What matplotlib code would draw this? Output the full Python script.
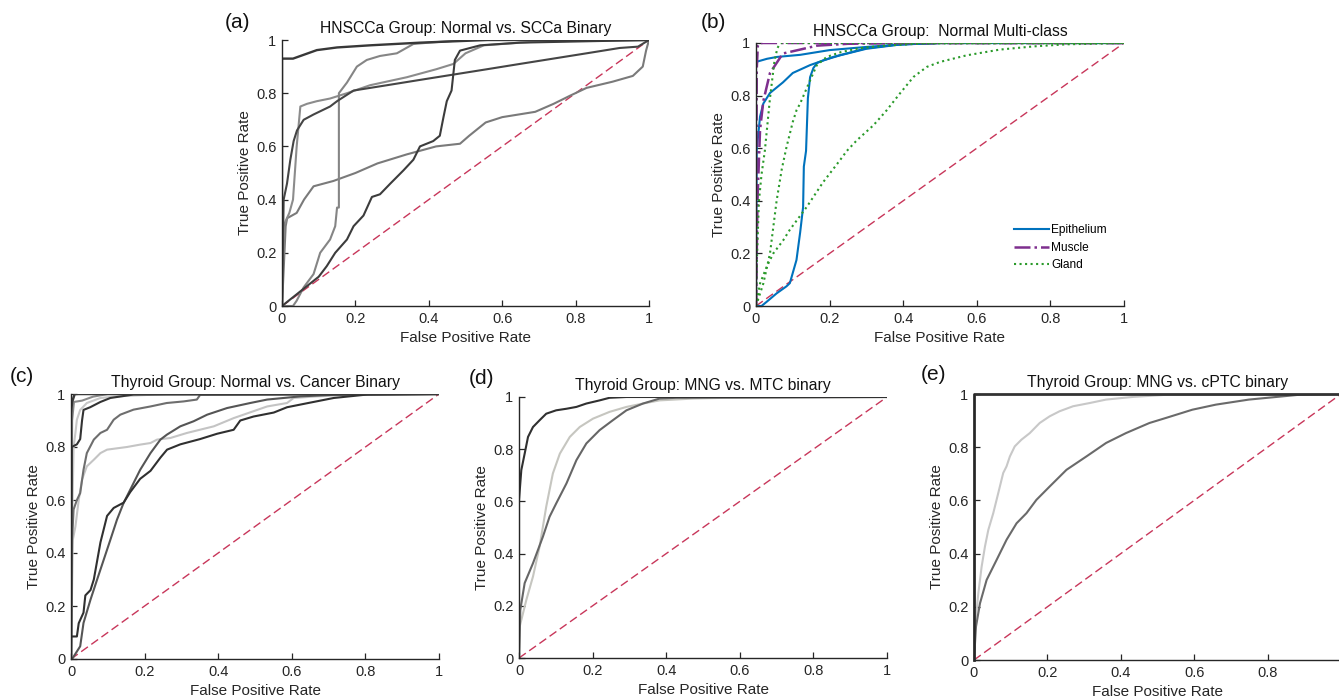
import matplotlib
matplotlib.use("Agg")
import matplotlib.pyplot as plt

plt.rcParams['font.family'] = ['Liberation Sans', 'DejaVu Sans']

# ---------------- data ----------------
tick_vals = [0, 0.2, 0.4, 0.6, 0.8, 1]
tick_labels = ['0', '0.2', '0.4', '0.6', '0.8', '1']

titles = ['HNSCCa Group: Normal vs. SCCa Binary',
          'HNSCCa Group:  Normal Multi-class',
          'Thyroid Group: Normal vs. Cancer Binary',
          'Thyroid Group: MNG vs. MTC binary',
          'Thyroid Group: MNG vs. cPTC binary']
panel_labels = ['(a)', '(b)', '(c)', '(d)', '(e)']
xlabel = 'False Positive Rate'
ylabel = 'True Positive Rate'
legend_labels = ['Epithelium', 'Muscle', 'Gland']

# Panel (a)
a1_x = [0, 0, 0.03, 0.095, 0.15, 0.24, 0.376, 0.56, 1.0]
a1_y = [0, 0.93, 0.93, 0.962, 0.972, 0.98, 0.99, 1.0, 1.0]
a2_x = [0, 0.005, 0.01, 0.014, 0.04, 0.06, 0.086, 0.14, 0.2, 0.26, 0.34, 0.42, 0.485,
        0.51, 0.555, 0.6, 0.69, 0.74, 0.784, 0.83, 0.9, 0.956, 0.983, 0.992, 1.0]
a2_y = [0, 0.15, 0.3, 0.33, 0.35, 0.4, 0.45, 0.47, 0.50, 0.536, 0.57, 0.6, 0.61,
        0.64, 0.69, 0.71, 0.73, 0.76, 0.79, 0.82, 0.843, 0.865, 0.9, 0.96, 1.0]
a3_x = [0, 0.0045, 0.0136, 0.0227, 0.0317, 0.0408, 0.059, 0.086, 0.131, 0.15, 0.195,
        0.286, 0.376, 0.467, 0.558, 0.648, 0.739, 0.83, 0.92, 0.97, 1.0]
a3_y = [0, 0.4, 0.46, 0.55, 0.62, 0.66, 0.7, 0.72, 0.75, 0.77, 0.81,
        0.83, 0.85, 0.87, 0.89, 0.91, 0.93, 0.95, 0.97, 0.975, 1.0]
a4_x = [0, 0.005, 0.01, 0.02, 0.03, 0.04, 0.05, 0.068, 0.095, 0.131, 0.177, 0.24,
        0.34, 0.42, 0.467, 0.5, 0.55, 0.7, 1.0]
a4_y = [0, 0.3, 0.32, 0.35, 0.4, 0.6, 0.75, 0.76, 0.77, 0.78, 0.80, 0.83,
        0.86, 0.89, 0.91, 0.95, 0.98, 0.995, 1.0]
a5_x = [0, 0.03, 0.04, 0.059, 0.086, 0.104, 0.131, 0.145, 0.15, 0.155, 0.155, 0.177,
        0.186, 0.204, 0.231, 0.267, 0.313, 0.358, 0.4, 0.5, 1.0]
a5_y = [0, 0, 0.02, 0.07, 0.12, 0.2, 0.25, 0.3, 0.37, 0.37, 0.8, 0.84,
        0.86, 0.9, 0.925, 0.94, 0.95, 0.985, 0.99, 1.0, 1.0]
a6_x = [0, 0.1, 0.122, 0.145, 0.177, 0.195, 0.222, 0.245, 0.267, 0.295, 0.331, 0.358,
        0.376, 0.412, 0.43, 0.44, 0.449, 0.462, 0.471, 0.485, 0.54, 0.648, 1.0]
a6_y = [0, 0.11, 0.15, 0.2, 0.25, 0.3, 0.34, 0.41, 0.42, 0.46, 0.51, 0.55,
        0.6, 0.62, 0.64, 0.71, 0.77, 0.81, 0.925, 0.96, 0.98, 0.99, 1.0]

# Panel (b)
epi1_x = [0, 0, 0.03, 0.057, 0.12, 0.2, 0.3, 0.4, 0.5, 1]
epi1_y = [0, 0.928, 0.94, 0.947, 0.955, 0.973, 0.985, 0.995, 1, 1]
epi2_x = [0, 0.002, 0.006, 0.011, 0.02, 0.038, 0.073, 0.1, 0.147, 0.21, 0.3, 0.39, 0.5, 1]
epi2_y = [0, 0.6, 0.65, 0.72, 0.77, 0.81, 0.85, 0.886, 0.916, 0.947, 0.98, 0.995, 1, 1]
epi3_x = [0, 0.015, 0.029, 0.056, 0.083, 0.092, 0.11, 0.12, 0.128, 0.13, 0.136, 0.141,
          0.147, 0.156, 0.166, 0.183, 0.228, 0.3, 0.39, 0.5, 1]
epi3_y = [0, 0.0, 0.016, 0.048, 0.075, 0.087, 0.175, 0.28, 0.376, 0.53, 0.59, 0.79,
          0.87, 0.905, 0.924, 0.934, 0.953, 0.978, 0.994, 1, 1]
mus1_x = [0, 0.002, 0.005, 0.01, 1]
mus1_y = [0, 0.9, 0.99, 1.0, 1.0]
mus2_x = [0, 0.004, 0.011, 0.02, 0.038, 0.073, 0.12, 0.166, 0.25, 0.4, 1]
mus2_y = [0, 0.4, 0.67, 0.78, 0.886, 0.96, 0.975, 0.99, 0.997, 1, 1]
gla1_x = [0, 0.003, 0.008, 0.015, 0.024, 0.038, 0.05, 0.058, 0.066, 1]
gla1_y = [0, 0.2, 0.4, 0.5, 0.59, 0.79, 0.93, 0.98, 1.0, 1.0]
gla2_x = [0, 0.02, 0.038, 0.056, 0.07, 0.083, 0.1, 0.11, 0.12, 0.147, 0.165, 0.192,
          0.23, 0.28, 0.35, 0.45, 1]
gla2_y = [0, 0.086, 0.2, 0.4, 0.52, 0.605, 0.7, 0.744, 0.77, 0.858, 0.915, 0.947,
          0.965, 0.98, 0.99, 0.998, 1]
gla3_x = [0, 0.011, 0.029, 0.047, 0.074, 0.092, 0.138, 0.182, 0.228, 0.247, 0.274, 0.319,
          0.355, 0.391, 0.428, 0.464, 0.5, 0.572, 0.663, 0.754, 0.844, 1]
gla3_y = [0, 0.086, 0.149, 0.2, 0.25, 0.29, 0.377, 0.47, 0.554, 0.59, 0.63, 0.687,
          0.744, 0.808, 0.871, 0.909, 0.928, 0.953, 0.975, 0.987, 0.995, 1]

# Panel (c)
c1_x = [0, 0, 0.003, 0.01, 1]
c1_y = [0, 0.93, 0.97, 1, 1]
c2_x = [0, 0.003, 0.007, 0.012, 0.016, 0.025, 0.043, 0.08, 0.125, 0.26, 1]
c2_y = [0, 0.5, 0.8, 0.853, 0.903, 0.94, 0.966, 0.985, 0.991, 1, 1]
c3_x = [0, 0.002, 0.016, 0.025, 0.03, 0.034, 0.052, 0.08, 0.107, 0.17, 1]
c3_y = [0, 0.8, 0.81, 0.83, 0.9, 0.94, 0.95, 0.97, 0.985, 0.998, 1]
c4_x = [0, 0.003, 0.008, 0.03, 0.06, 0.1, 1]
c4_y = [0, 0.9, 0.97, 0.975, 0.99, 1.0, 1.0]
c5_x = [0, 0.003, 0.007, 0.016, 0.025, 0.034, 0.043, 0.062, 0.08, 0.098, 0.116, 0.134,
        0.17, 0.216, 0.26, 0.306, 0.342, 0.351, 1]
c5_y = [0, 0.45, 0.564, 0.6, 0.626, 0.714, 0.777, 0.828, 0.853, 0.865, 0.903, 0.922,
        0.941, 0.953, 0.966, 0.972, 0.979, 0.997, 1]
c6_x = [0, 0.005, 0.012, 0.021, 0.03, 0.043, 0.062, 0.08, 0.098, 0.152, 0.188, 0.216,
        0.234, 0.27, 0.315, 0.388, 0.442, 0.533, 0.587, 0.605, 0.668, 0.8, 1]
c6_y = [0, 0.45, 0.5, 0.6, 0.677, 0.727, 0.752, 0.777, 0.79, 0.8, 0.809, 0.815,
        0.828, 0.834, 0.853, 0.878, 0.909, 0.953, 0.966, 0.985, 0.991, 1.0, 1]
c7_x = [0, 0.003, 0.025, 0.034, 0.053, 0.071, 0.089, 0.107, 0.125, 0.143, 0.161, 0.188,
        0.216, 0.243, 0.261, 0.297, 0.333, 0.37, 0.424, 0.487, 0.533, 0.623, 0.714, 1]
c7_y = [0, 0, 0.048, 0.136, 0.224, 0.3, 0.375, 0.45, 0.526, 0.589, 0.639, 0.714,
        0.777, 0.828, 0.847, 0.878, 0.897, 0.922, 0.947, 0.966, 0.979, 0.991, 0.997, 1]
c8_x = [0, 0, 0.016, 0.021, 0.034, 0.039, 0.053, 0.062, 0.071, 0.08, 0.098, 0.116,
        0.143, 0.161, 0.188, 0.216, 0.243, 0.261, 0.297, 0.351, 0.397, 0.442, 0.46,
        0.496, 0.551, 0.587, 0.641, 0.714, 0.805, 1]
c8_y = [0, 0.085, 0.085, 0.135, 0.175, 0.24, 0.26, 0.3, 0.37, 0.44, 0.54, 0.57,
        0.59, 0.63, 0.68, 0.71, 0.76, 0.79, 0.81, 0.83, 0.85, 0.865, 0.9,
        0.915, 0.93, 0.95, 0.965, 0.985, 0.998, 1]

# Panel (d)
d1_x = [0, 0, 0.0063, 0.0154, 0.0245, 0.038, 0.056, 0.074, 0.101, 0.129, 0.156, 0.183,
        0.219, 0.246, 0.292, 1]
d1_y = [0, 0.605, 0.72, 0.783, 0.847, 0.885, 0.911, 0.936, 0.949, 0.955, 0.962, 0.975,
        0.987, 0.997, 1, 1]
d2_x = [0, 0.002, 0.02, 0.038, 0.056, 0.074, 0.092, 0.111, 0.138, 0.165, 0.201, 0.246,
        0.292, 0.337, 0.382, 0.473, 0.563, 1]
d2_y = [0, 0.121, 0.223, 0.312, 0.427, 0.58, 0.707, 0.783, 0.847, 0.885, 0.917, 0.943,
        0.962, 0.975, 0.987, 0.994, 0.997, 1]
d3_x = [0, 0.0036, 0.0154, 0.038, 0.065, 0.083, 0.101, 0.129, 0.156, 0.183, 0.219,
        0.255, 0.292, 0.337, 0.382, 0.428, 1]
d3_y = [0, 0.185, 0.287, 0.363, 0.465, 0.541, 0.592, 0.669, 0.758, 0.822, 0.873,
        0.911, 0.949, 0.975, 0.994, 0.997, 1]

# Panel (e)
e1_x = [0, 0, 1]
e1_y = [0, 1, 1]
e2_x = [0, 0.0027, 0.0118, 0.0208, 0.0299, 0.039, 0.0525, 0.066, 0.0796, 0.0887, 0.0977,
        0.111, 0.129, 0.152, 0.179, 0.206, 0.233, 0.27, 0.315, 0.36, 0.433, 0.523, 1]
e2_y = [0, 0.125, 0.251, 0.351, 0.427, 0.489, 0.552, 0.627, 0.703, 0.728, 0.765,
        0.803, 0.828, 0.853, 0.891, 0.916, 0.935, 0.954, 0.966, 0.979, 0.989, 0.997, 1]
e3_x = [0, 0.0054, 0.0163, 0.0344, 0.0615, 0.0887, 0.116, 0.143, 0.17, 0.206, 0.252,
        0.306, 0.36, 0.414, 0.478, 0.523, 0.595, 0.659, 0.749, 0.84, 0.885, 1]
e3_y = [0, 0.125, 0.213, 0.301, 0.376, 0.452, 0.514, 0.552, 0.602, 0.652, 0.715,
        0.765, 0.816, 0.853, 0.891, 0.91, 0.941, 0.96, 0.979, 0.991, 0.997, 1]

# ---------------- styling ----------------
W, H = 1339, 698
fig = plt.figure(figsize=(W / 100, H / 100), dpi=100)
fig.patch.set_facecolor('white')

def px_axes(left, right, top, bottom):
    return fig.add_axes([left / W, 1 - bottom / H, (right - left) / W, (bottom - top) / H])

ax_a = px_axes(282, 649, 40, 306)
ax_b = px_axes(756, 1124, 43, 306)
ax_c = px_axes(71, 439, 394, 659)
ax_d = px_axes(519, 887, 397, 658)
ax_e = px_axes(974, 1341, 394, 660)
axes = [ax_a, ax_b, ax_c, ax_d, ax_e]

DIAG = '#C8365A'
AXC = '#262626'
LW = 1.5

for ax, title in zip(axes, titles):
    ax.plot([0, 1], [0, 1], color=DIAG, lw=1.0, ls=(0, (6, 3)), zorder=1)
    ax.set_xlim(0, 1)
    ax.set_ylim(0, 1)
    ax.set_xticks(tick_vals)
    ax.set_yticks(tick_vals)
    ax.set_yticklabels(tick_labels)
    if ax is ax_e:
        # the last label falls outside the image in the reference
        ax.set_xticklabels(tick_labels[:-1] + [''])
    else:
        ax.set_xticklabels(tick_labels)
    for s in ['top', 'right']:
        ax.spines[s].set_visible(False)
    for s in ['left', 'bottom']:
        ax.spines[s].set_color(AXC)
        ax.spines[s].set_linewidth(1.0)
    ax.tick_params(direction='in', length=4, width=0.9, colors=AXC, labelsize=10.5, pad=4)
    ax.set_xlabel(xlabel, fontsize=11, color=AXC, labelpad=4)
    ax.set_ylabel(ylabel, fontsize=11, color=AXC, labelpad=3)
    ax.set_title(title, fontsize=11.3, color='#111111', pad=5)

# (a)
ax_a.plot(a2_x, a2_y, color='#7a7a7a', lw=LW)
ax_a.plot(a4_x, a4_y, color='#8c8c8c', lw=LW)
ax_a.plot(a5_x, a5_y, color='#858585', lw=LW)
ax_a.plot(a3_x, a3_y, color='#454545', lw=LW)
ax_a.plot(a6_x, a6_y, color='#3c3c3c', lw=LW)
ax_a.plot(a1_x, a1_y, color='#383838', lw=LW + 0.2)

# (b)
EPI = '#0072BD'
MUS = '#7E2F8E'
GLA = '#2A9A2A'
l_epi, = ax_b.plot(epi1_x, epi1_y, color=EPI, lw=LW, label=legend_labels[0])
ax_b.plot(epi2_x, epi2_y, color=EPI, lw=LW)
ax_b.plot(epi3_x, epi3_y, color=EPI, lw=LW)
l_mus, = ax_b.plot(mus1_x, mus1_y, color=MUS, lw=LW + 0.3, ls='-.', label=legend_labels[1])
ax_b.plot(mus2_x, mus2_y, color=MUS, lw=LW + 0.3, ls='-.')
l_gla, = ax_b.plot(gla1_x, gla1_y, color=GLA, lw=LW, ls=':', label=legend_labels[2])
ax_b.plot(gla2_x, gla2_y, color=GLA, lw=LW, ls=':')
ax_b.plot(gla3_x, gla3_y, color=GLA, lw=LW, ls=':')
ax_b.legend(handles=[l_epi, l_mus, l_gla], loc='upper left', bbox_to_anchor=(0.70, 0.31),
            frameon=False, fontsize=8.6, handlelength=3.0, handletextpad=0.15,
            labelspacing=0.45, borderpad=0, borderaxespad=0)

# (c)
ax_c.plot(c6_x, c6_y, color='#c4c4c4', lw=LW)
ax_c.plot(c2_x, c2_y, color='#c8c8c8', lw=LW)
ax_c.plot(c5_x, c5_y, color='#6e6e6e', lw=LW)
ax_c.plot(c4_x, c4_y, color='#8a8a8a', lw=LW)
ax_c.plot(c7_x, c7_y, color='#555555', lw=LW)
ax_c.plot(c8_x, c8_y, color='#303030', lw=LW)
ax_c.plot(c3_x, c3_y, color='#333333', lw=LW)
ax_c.plot(c1_x, c1_y, color='#3a3a3a', lw=LW + 0.3)

# (d)
ax_d.plot(d2_x, d2_y, color='#c6c6c0', lw=LW)
ax_d.plot(d3_x, d3_y, color='#666666', lw=LW)
ax_d.plot(d1_x, d1_y, color='#303030', lw=LW)

# (e)
ax_e.plot(e2_x, e2_y, color='#c8c8c8', lw=LW)
ax_e.plot(e3_x, e3_y, color='#6a6a6a', lw=LW)
ax_e.plot(e1_x, e1_y, color='#333333', lw=LW + 0.5, clip_on=False)

# panel labels
for lab, (px, py) in zip(panel_labels, [(237, 22), (713, 22), (22, 377), (481, 379), (934, 374)]):
    fig.text(px / W, 1 - py / H, lab, fontsize=15, ha='center', va='center', color='#111111')

fig.savefig('out.png', dpi=100, facecolor='white')
